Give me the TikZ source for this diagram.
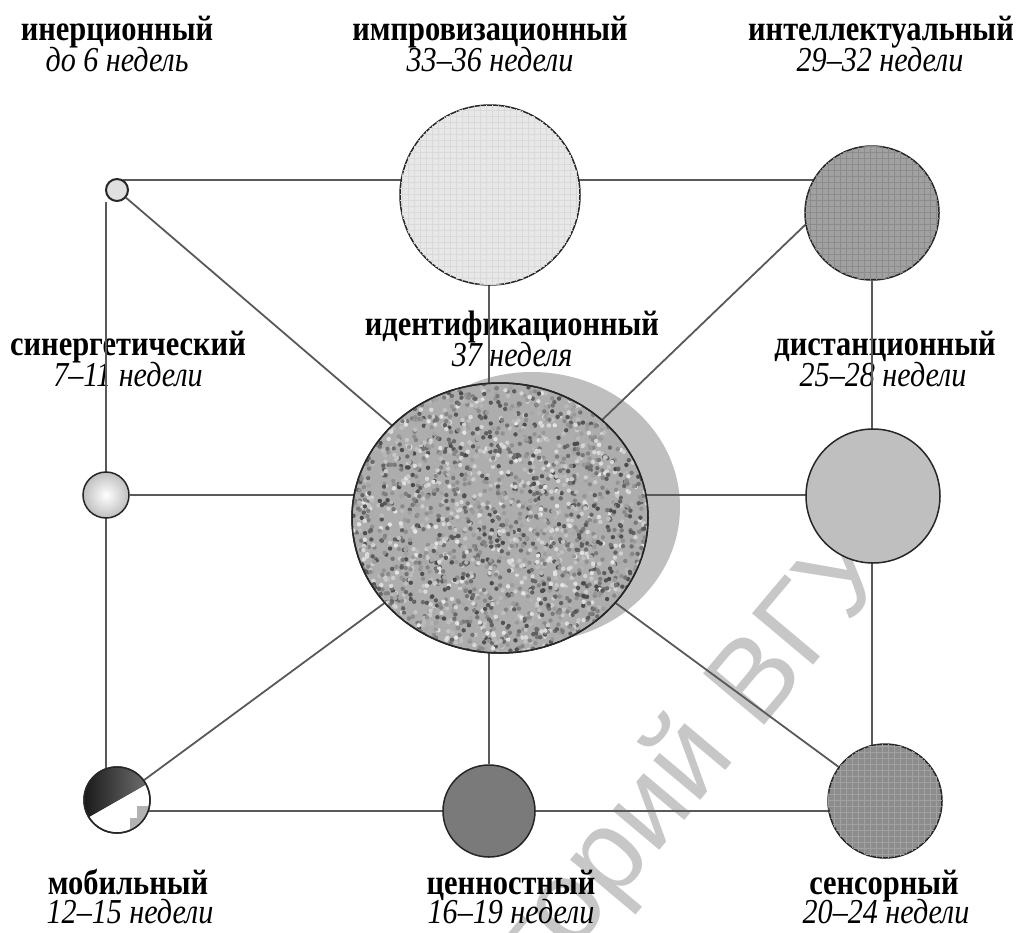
\documentclass[tikz,border=0pt]{standalone}
\usepackage{fontspec}
\setmainfont{Liberation Serif}[FakeStretch=0.86]
\newfontfamily\markfont{Liberation Sans}
\usepackage{tikz}
\usetikzlibrary{shapes,patterns,backgrounds,positioning}
\pgfdeclarelayer{wm}
\pgfsetlayers{wm,background,main}

\begin{document}
\begin{tikzpicture}[x=0.5pt,y=-0.5pt]
			\tikzstyle{Stage}	= [circle, draw=black!85, line width=0.75pt, inner sep=0pt]
			\tikzstyle{Link}	= [line width=0.9pt, black!65]
			\tikzstyle{Name}	= [font=\fontsize{17.7}{18}\selectfont\bfseries, inner sep=0pt, anchor=base]
			\tikzstyle{Weeks}	= [font=\fontsize{17.5}{18}\selectfont\itshape, inner sep=0pt, anchor=base]
			\tikzstyle{Mark}	= [text=black!22, font=\markfont\fontsize{58}{58}\selectfont, inner sep=0pt]

			\useasboundingbox (0,0) rectangle (1017,932);

			\node (inerc) at (117,190) [Stage, line width=1pt, fill=black!12, minimum size=11pt] {};
			\node (improv) at (490,195) [Stage, fill=black!9, minimum size=90pt, postaction={pattern=grid, pattern color=black!15}] {};
			\node (intel) at (872,213) [Stage, fill=black!37, minimum size=67pt, postaction={pattern=grid, pattern color=black!45}] {};
			\node (synerg) at (106,495) [Stage, inner color=white, outer color=black!25, minimum size=23pt] {};
			\node (ident) at (500,518) [ellipse, draw=black!85, line width=0.75pt, fill=black!32, minimum width=148pt, minimum height=135pt, inner sep=0pt] {};
			\node (distanc) at (873,496) [Stage, fill=black!25, minimum size=67pt] {};
			\node (mobil) at (117,800) [Stage, fill=white, minimum size=33pt] {};
			\node (cennost) at (489,811) [Stage, fill=black!52, minimum size=46pt] {};
			\node (sensor) at (885,801) [Stage, fill=black!45, minimum size=57pt, postaction={pattern=grid, pattern color=black!37}] {};

			\begin{scope}
				\clip (ident.center) ellipse (74pt and 67.5pt);
				\pgfmathsetseed{11}
				\foreach \i in {1,...,2800} {
					\pgfmathsetmacro{\dx}{148*rand}
					\pgfmathsetmacro{\dy}{135*rand}
					\pgfmathtruncatemacro{\g}{10+62*rnd}
					\fill [black!\g] ([shift={(\dx,\dy)}]ident.center) circle (1.1pt);
				}
			\end{scope}
			\draw [black!85, line width=0.75pt] (ident.center) ellipse (74pt and 67.5pt);

			\begin{scope}
				\clip (mobil.center) circle (16.5pt);
				\fill [left color=black!92, right color=black!55] (80,822) -- (150,782) -- (150,760) -- (80,760) -- cycle;
				\fill [black!30] (130,835) -- (130,818) -- (137,818) -- (137,806) -- (152,806) -- (152,835) -- cycle;
			\end{scope}
			\draw [black!85, line width=0.75pt] (mobil.center) circle (16.5pt);

			\begin{pgfonlayer}{wm}
				\node (mark) at (872,548) [Mark, rotate=50, anchor=east] {Репозиторий ВГУ};
			\end{pgfonlayer}

			\begin{pgfonlayer}{background}
				\node (shade) at (532,507) [ellipse, fill=black!25, minimum width=148pt, minimum height=135pt, inner sep=0pt] {};

				\node (inercN) at (117,40) [Name] {инерционный};
				\node (inercW) at (117,71) [Weeks] {до 6 недель};
				\node (improvN) at (490,40) [Name] {импровизационный};
				\node (improvW) at (490,71) [Weeks] {33–36 недели};
				\node (intelN) at (881,40) [Name] {интеллектуальный};
				\node (intelW) at (880,71) [Weeks] {29–32 недели};
				\node (synergN) at (128,355) [Name] {синергетический};
				\node (synergW) at (128,386) [Weeks] {7–11 недели};
				\node (identN) at (512,335) [Name] {идентификационный};
				\node (identW) at (512,366) [Weeks] {37 неделя};
				\node (distancN) at (885,355) [Name] {дистанционный};
				\node (distancW) at (883,386) [Weeks] {25–28 недели};
				\node (mobilN) at (128,894) [Name] {мобильный};
				\node (mobilW) at (130,923) [Weeks] {12–15 недели};
				\node (cennostN) at (511,894) [Name] {ценностный};
				\node (cennostW) at (511,923) [Weeks] {16–19 недели};
				\node (sensorN) at (884,894) [Name] {сенсорный};
				\node (sensorW) at (886,923) [Weeks] {20–24 недели};

				\draw [-] (inerc.60) to (intel |- inerc.60) [Link];
				\draw [-] (synerg |- inerc.south) to (synerg |- mobil) [Link];
				\draw [-] (inerc) to (ident) [Link];
				\draw [-] (cennost |- improv) to (cennost) [Link];
				\draw [-] (intel.190) to (ident) [Link];
				\draw [-] (intel) to (intel |- sensor) [Link];
				\draw [-] (synerg) to (synerg -| distanc) [Link];
				\draw [-] (mobil) to (ident) [Link];
				\draw [-] (ident) to (sensor) [Link];
				\draw [-] (mobil |- cennost) to (cennost -| sensor) [Link];
			\end{pgfonlayer}

		\end{tikzpicture}
\end{document}
